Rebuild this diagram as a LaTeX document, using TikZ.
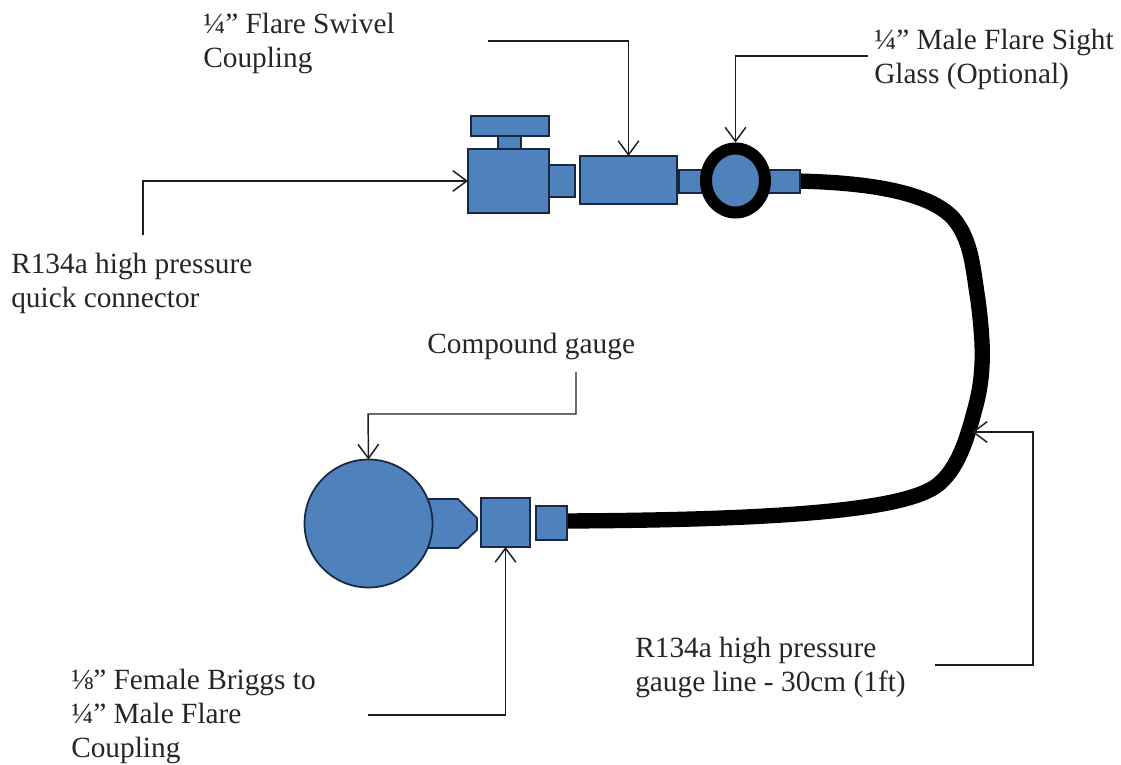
\documentclass[tikz,border=0pt]{standalone}
\usepackage{fontspec}
\setmainfont{Liberation Serif}
\usetikzlibrary{arrows.meta,shapes.geometric}
\definecolor{partblue}{RGB}{79,129,189}
\definecolor{partline}{RGB}{22,40,66}
\definecolor{lead}{RGB}{30,30,30}
\tikzset{
  x=0.75pt,y=-0.75pt,
  part/.style={draw=partline,fill=partblue,line width=1.3pt,inner sep=0pt,outer sep=0pt},
  leader/.style={draw=lead,line width=1.1pt,-{Straight Barb[length=10.5pt,width=15.5pt,line width=1.1pt]}},
  lbl/.style={font=\fontsize{22}{25.5}\selectfont,align=left,anchor=north west,inner sep=0pt,text=black!85}
}
\newcommand{\pbox}[5]{\node[part,minimum width=#4*0.75pt-#2*0.75pt,minimum height=#5*0.75pt-#3*0.75pt] (#1) at ({(#2+#4)/2},{(#3+#5)/2}) {};}
\begin{document}
\begin{tikzpicture}
\useasboundingbox (0,0) rectangle (1121,764);
% hose
\draw[line width=11.5pt,black] (795,181) .. controls (850,182) and (925,188) .. (953,218)
  .. controls (972,240) and (973,270) .. (978,300)
  .. controls (983,340) and (985,370) .. (976,405)
  .. controls (968,435) and (960,465) .. (940,483)
  .. controls (915,506) and (820,520) .. (560,521);
% parts
\pbox{handle}{471}{116}{549}{136}
\pbox{stem}{498}{136}{521}{149}
\pbox{body}{468}{149}{549}{213}
\pbox{nipple}{549}{165}{575}{197}
\pbox{swivel}{580}{156}{677}{204}
\pbox{stubL}{679}{170}{710}{193}
\pbox{stubR}{760}{170}{800}{193}
\node[draw=black,fill=partblue,line width=9pt,ellipse,minimum width=59*0.75pt,minimum height=64*0.75pt,inner sep=0pt,outer sep=0pt] (glass) at (735.5,180.5) {};
\draw[part] (428,499) -- (458,499) -- (477,518) -- (477,530) -- (458,548) -- (428,548) -- cycle;
\node[part,circle,minimum size=128*0.75pt] (gauge) at (368.5,523.5) {};
\pbox{brigg}{481}{498}{530}{547}
\pbox{flare}{536}{506}{567}{540}
% labels
\node[lbl] (t1) at (203,13) {¼” Flare Swivel\\Coupling};
\node[lbl] (t2) at (874,29) {¼” Male Flare Sight\\Glass (Optional)};
\node[lbl] (t3) at (11,253) {R134a high pressure\\quick connector};
\node[lbl] (t4) at (427,333) {Compound gauge};
\node[lbl] (t5) at (635,637) {R134a high pressure\\gauge line - 30cm (1ft)};
\node[lbl] (t6) at (71,669) {⅛” Female Briggs to\\¼” Male Flare\\Coupling};
% leaders
\coordinate (s1) at (488,41);
\coordinate (s2) at (868,56);
\coordinate (s3) at (143,235);
\coordinate (s4) at (576,372);
\coordinate (s5) at (935,665);
\coordinate (s6) at (368,715);
\coordinate (e5) at (972,432);
\draw[leader] (s1) -| (swivel.north);
\draw[leader] (s2) -| ([yshift=4.5pt]glass.north);
\draw[leader] (s3) |- (body.west);
\draw[leader] (s4) |- (368,414) -- (gauge.north);
\draw[leader] (s5) -| (1033,432) -- (e5);
\draw[leader] (s6) -| (brigg.south);
\end{tikzpicture}
\end{document}
